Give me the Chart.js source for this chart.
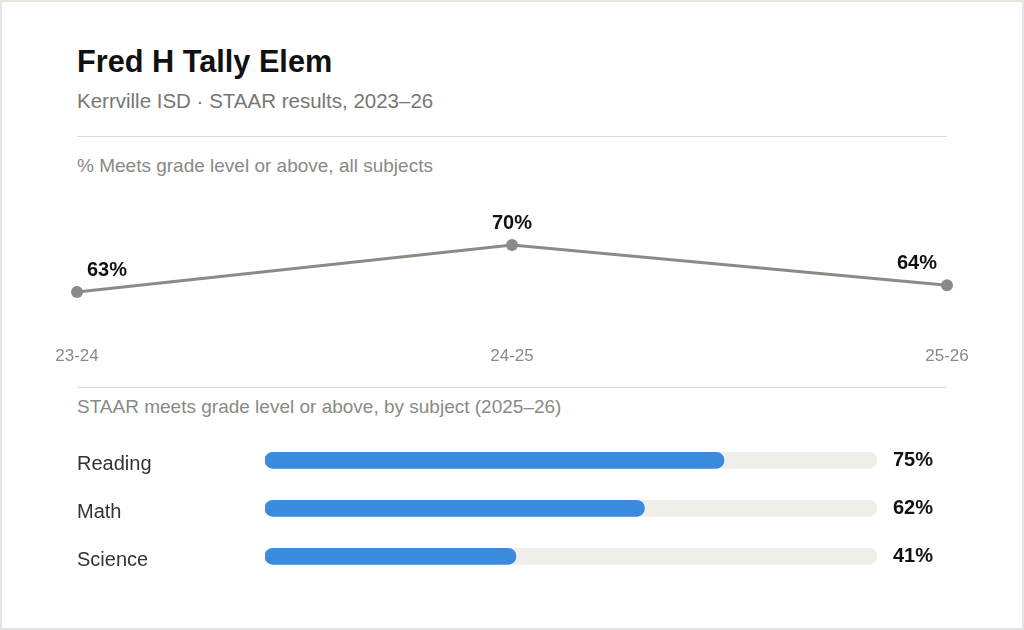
<!DOCTYPE html>
<html>
<head>
<meta charset="utf-8">
<script src="https://cdn.jsdelivr.net/npm/chart.js@4/dist/chart.umd.min.js"></script>
<style>
  html, body { margin: 0; padding: 0; background: #ffffff; }
  body { width: 1024px; height: 630px; position: relative; overflow: hidden;
         font-family: "Liberation Sans", Arial, Helvetica, sans-serif; }
  #card { position: absolute; left: 0; top: 0; width: 1024px; height: 630px;
          box-sizing: border-box; border: 2px solid #e6e6e0; background: #fff; }
  .t { position: absolute; left: 77px; white-space: nowrap; }
  #title { top: 47.3px; font-size: 30.7px; line-height: 30.7px; font-weight: bold; color: #111; }
  #sub { top: 91px; font-size: 20.5px; line-height: 20.5px; color: #777772; }
  .sec { font-size: 19px; line-height: 19px; color: #8a8a85; }
  #sec1 { top: 156.2px; }
  #sec2 { top: 396.6px; }
  .rule { position: absolute; left: 77px; width: 870px; height: 1px; background: #dcdcd6; }
  #r1 { top: 136px; }
  #r2 { top: 387px; }
  canvas { position: absolute; left: 0; }
  #lineC { top: 190px; }
  #barC { top: 420px; }
</style>
</head>
<body>
<div id="card"></div>
<div class="t" id="title">Fred H Tally Elem</div>
<div class="t" id="sub">Kerrville ISD · STAAR results, 2023–26</div>
<div class="rule" id="r1"></div>
<div class="t sec" id="sec1">% Meets grade level or above, all subjects</div>
<canvas id="lineC" width="1024" height="180" style="width:1024px;height:180px"></canvas>
<div class="rule" id="r2"></div>
<div class="t sec" id="sec2">STAAR meets grade level or above, by subject (2025–26)</div>
<canvas id="barC" width="1024" height="176" style="width:1024px;height:176px"></canvas>
<script>
const years = ['23-24', '24-25', '25-26'];
const meetsAll = [63, 70, 64];
const subjects = ['Reading', 'Math', 'Science'];
const subjectMeets = [75, 62, 41];
const trackFull = [100, 100, 100];

const FONT = '"Liberation Sans", Arial, Helvetica, sans-serif';
Chart.defaults.font.family = FONT;

const lineLabels = {
  id: 'lineLabels',
  afterDatasetsDraw(chart) {
    const ctx = chart.ctx;
    const meta = chart.getDatasetMeta(0);
    const n = meta.data.length;
    ctx.save();
    ctx.font = 'bold 20px ' + FONT;
    ctx.fillStyle = '#111';
    ctx.textBaseline = 'alphabetic';
    meta.data.forEach((pt, i) => {
      const txt = chart.data.datasets[0].data[i] + '%';
      let x = pt.x;
      if (i === 0) { ctx.textAlign = 'left'; x += 10; }
      else if (i === n - 1) { ctx.textAlign = 'right'; x -= 10; }
      else { ctx.textAlign = 'center'; }
      ctx.fillText(txt, x, pt.y - 16);
    });
    ctx.restore();
  }
};

new Chart(document.getElementById('lineC'), {
  type: 'line',
  data: {
    labels: years,
    datasets: [{
      data: meetsAll,
      borderColor: '#8b8b85',
      backgroundColor: '#8b8b85',
      borderWidth: 3,
      pointRadius: 6,
      pointBorderWidth: 0,
      pointBackgroundColor: '#8b8b85',
      tension: 0,
      clip: false
    }]
  },
  options: {
    responsive: false,
    animation: false,
    layout: { padding: { left: 77, right: 77, top: 21.4, bottom: 3.9 } },
    plugins: { legend: { display: false }, tooltip: { enabled: false } },
    scales: {
      x: {
        offset: false,
        grid: { display: false, drawTicks: false },
        border: { display: false },
        ticks: { color: '#8a8a8a', font: { size: 17 }, padding: 0, maxRotation: 0, autoSkip: false }
      },
      y: { display: false, min: 55, max: 75 }
    }
  },
  plugins: [lineLabels]
});

const barLabels = {
  id: 'barLabels',
  afterDatasetsDraw(chart) {
    const ctx = chart.ctx;
    const meta = chart.getDatasetMeta(1);
    ctx.save();
    ctx.font = 'bold 20px ' + FONT;
    ctx.fillStyle = '#111';
    ctx.textAlign = 'left';
    ctx.textBaseline = 'middle';
    meta.data.forEach((bar, i) => {
      ctx.fillText(chart.data.datasets[1].data[i] + '%', chart.chartArea.right + 16, bar.y);
    });
    ctx.restore();
  }
};

new Chart(document.getElementById('barC'), {
  type: 'bar',
  data: {
    labels: subjects,
    datasets: [
      {
        data: trackFull,
        backgroundColor: '#efeee9',
        barThickness: 16,
        borderRadius: 8,
        borderSkipped: false,
        grouped: false,
        order: 2
      },
      {
        data: subjectMeets,
        backgroundColor: '#3a8bdc',
        barThickness: 16,
        borderRadius: 8,
        borderSkipped: false,
        grouped: false,
        order: 1
      }
    ]
  },
  options: {
    indexAxis: 'y',
    responsive: false,
    animation: false,
    layout: { padding: { left: 77, right: 147, top: 16.3, bottom: 15.7 } },
    plugins: { legend: { display: false }, tooltip: { enabled: false } },
    scales: {
      x: { display: false, min: 0, max: 100 },
      y: {
        grid: { display: false, drawTicks: false },
        border: { display: false },
        ticks: { color: '#333', font: { size: 20 }, crossAlign: 'far', padding: 0, labelOffset: 4 },
        afterFit(scale) { scale.width = 188; }
      }
    }
  },
  plugins: [barLabels]
});
</script>
</body>
</html>
